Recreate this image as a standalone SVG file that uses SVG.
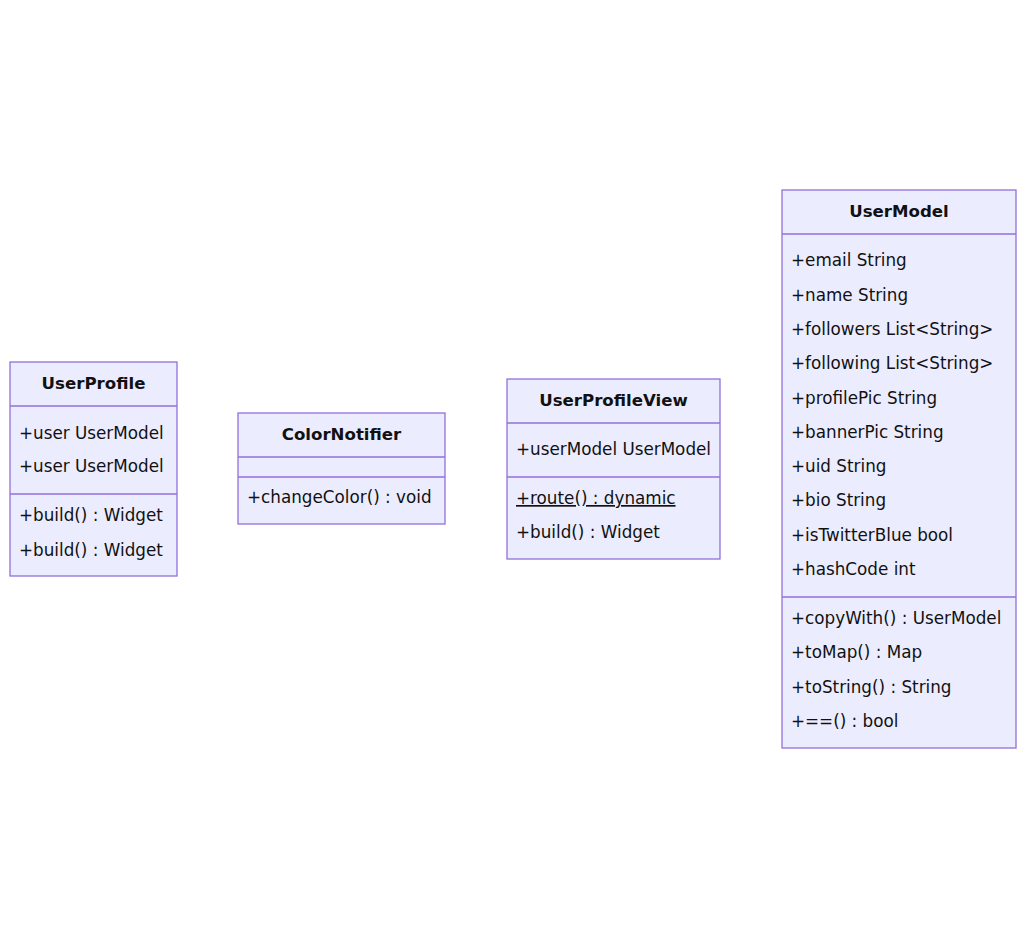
<svg xmlns="http://www.w3.org/2000/svg" width="1026" height="939" viewBox="0 0 1026 939">
<style>
.box{fill:#ECECFF;stroke:#9370DB;stroke-width:1.3}
.div{stroke:#9370DB;stroke-width:1.3}
text{font-family:"DejaVu Sans",Verdana,sans-serif;font-size:16.8px;fill:#111}
.t{font-weight:bold;text-anchor:middle;font-size:16.6px}
.u{text-decoration:underline}
</style>
<rect width="1026" height="939" fill="#fff"/>
<g id="connectors"></g>
<g id="UserProfile">
<rect class="box" x="10" y="362" width="167" height="214"/>
<line class="div" x1="10" y1="406" x2="177" y2="406"/>
<line class="div" x1="10" y1="494" x2="177" y2="494"/>
<text class="t" x="93.5" y="389">UserProfile</text>
<text x="19" y="439">+user UserModel</text>
<text x="19" y="472">+user UserModel</text>
<text x="19" y="521">+build() : Widget</text>
<text x="19" y="556">+build() : Widget</text>
</g>
<g id="ColorNotifier">
<rect class="box" x="238" y="413" width="207" height="111"/>
<line class="div" x1="238" y1="457" x2="445" y2="457"/>
<line class="div" x1="238" y1="477" x2="445" y2="477"/>
<text class="t" x="341.5" y="440">ColorNotifier</text>
<text x="247" y="503">+changeColor() : void</text>
</g>
<g id="UserProfileView">
<rect class="box" x="507" y="379" width="213" height="180"/>
<line class="div" x1="507" y1="423" x2="720" y2="423"/>
<line class="div" x1="507" y1="477" x2="720" y2="477"/>
<text class="t" x="613.5" y="406">UserProfileView</text>
<text x="516" y="455">+userModel UserModel</text>
<text class="u" x="516" y="504">+route() : dynamic</text>
<text x="516" y="538">+build() : Widget</text>
</g>
<g id="UserModel">
<rect class="box" x="782" y="190" width="234" height="558"/>
<line class="div" x1="782" y1="234" x2="1016" y2="234"/>
<line class="div" x1="782" y1="597" x2="1016" y2="597"/>
<text class="t" x="899" y="217">UserModel</text>
<text x="791" y="266">+email String</text>
<text x="791" y="301">+name String</text>
<text x="791" y="335">+followers List&lt;String&gt;</text>
<text x="791" y="369">+following List&lt;String&gt;</text>
<text x="791" y="404">+profilePic String</text>
<text x="791" y="438">+bannerPic String</text>
<text x="791" y="472">+uid String</text>
<text x="791" y="506">+bio String</text>
<text x="791" y="541">+isTwitterBlue bool</text>
<text x="791" y="575">+hashCode int</text>
<text x="791" y="624">+copyWith() : UserModel</text>
<text x="791" y="658">+toMap() : Map</text>
<text x="791" y="693">+toString() : String</text>
<text x="791" y="727">+==() : bool</text>
</g>
</svg>
